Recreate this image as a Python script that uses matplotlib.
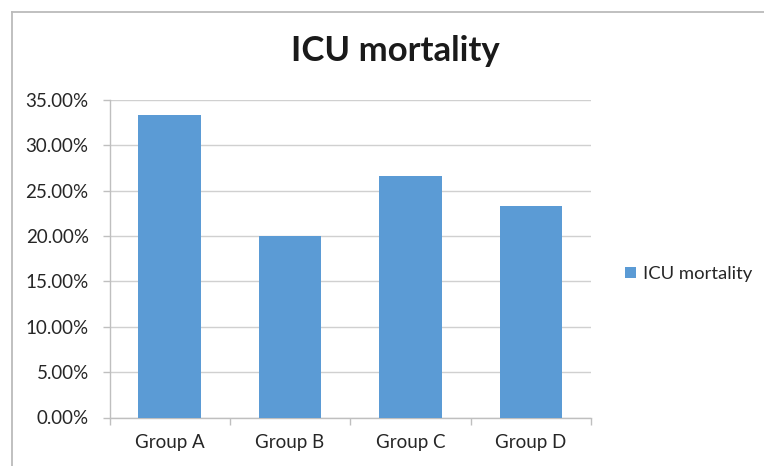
import matplotlib
matplotlib.use("Agg")
import matplotlib.pyplot as plt
from matplotlib.lines import Line2D
from matplotlib.ticker import PercentFormatter, MultipleLocator, FixedLocator, NullFormatter

categories = ["Group A", "Group B", "Group C", "Group D"]
icu_mortality = [33.33, 20.00, 26.67, 23.33]
series_name = "ICU mortality"
title = "ICU mortality"

plt.rcParams['font.family'] = ['Lato', 'DejaVu Sans']

W, H = 764, 466
fig = plt.figure(figsize=(W / 100, H / 100), dpi=100)

# outer chart frame (only left and top edges visible)
fx, fy = 11.5 / W, 1 - 11.5 / H
fig.add_artist(Line2D([fx, fx], [0, fy], transform=fig.transFigure, color="#BBBBBB", linewidth=1.3))
fig.add_artist(Line2D([fx, 1], [fy, fy], transform=fig.transFigure, color="#BBBBBB", linewidth=1.3))

ax = fig.add_axes([109.5 / W, 1 - 417.5 / H, (591 - 109.5) / W, (417.5 - 100) / H])
x = list(range(len(categories)))
ax.bar(x, icu_mortality, width=0.52, color="#5B9BD5", zorder=3, label=series_name)

ax.set_xlim(-0.5, len(categories) - 0.5)
ax.set_ylim(0, 35)
ax.yaxis.set_major_locator(MultipleLocator(5))
ax.yaxis.set_major_formatter(PercentFormatter(decimals=2))
ax.grid(axis="y", color="#D0D0D0", linewidth=1.0, zorder=0)

ax.set_xticks(x)
ax.set_xticklabels(categories)
ax.xaxis.set_minor_locator(FixedLocator([i - 0.5 for i in range(len(categories) + 1)]))
ax.xaxis.set_minor_formatter(NullFormatter())
ax.tick_params(axis="x", which="major", length=0, pad=12, labelsize=13.5, colors="#262626")
ax.tick_params(axis="x", which="minor", length=5, color="#BFBFBF", width=1)
ax.tick_params(axis="y", length=5, color="#BFBFBF", width=1, pad=10, labelsize=13.5, labelcolor="#262626")

for s in ["top", "right"]:
    ax.spines[s].set_visible(False)
for s in ["left", "bottom"]:
    ax.spines[s].set_color("#BFBFBF")
    ax.spines[s].set_linewidth(1.0)

fig.text(395 / W, 1 - 61 / H, title, ha="center", va="baseline", fontsize=25, fontweight="bold", color="#1a1a1a")

leg = fig.legend(loc="center left", bbox_to_anchor=(625 / W, 1 - 274 / H), frameon=False,
                 borderaxespad=0, borderpad=0,
                 fontsize=13.3, handlelength=0.6, handleheight=0.6, handletextpad=0.4, labelcolor="#262626")

fig.savefig("out.png", dpi=100)
